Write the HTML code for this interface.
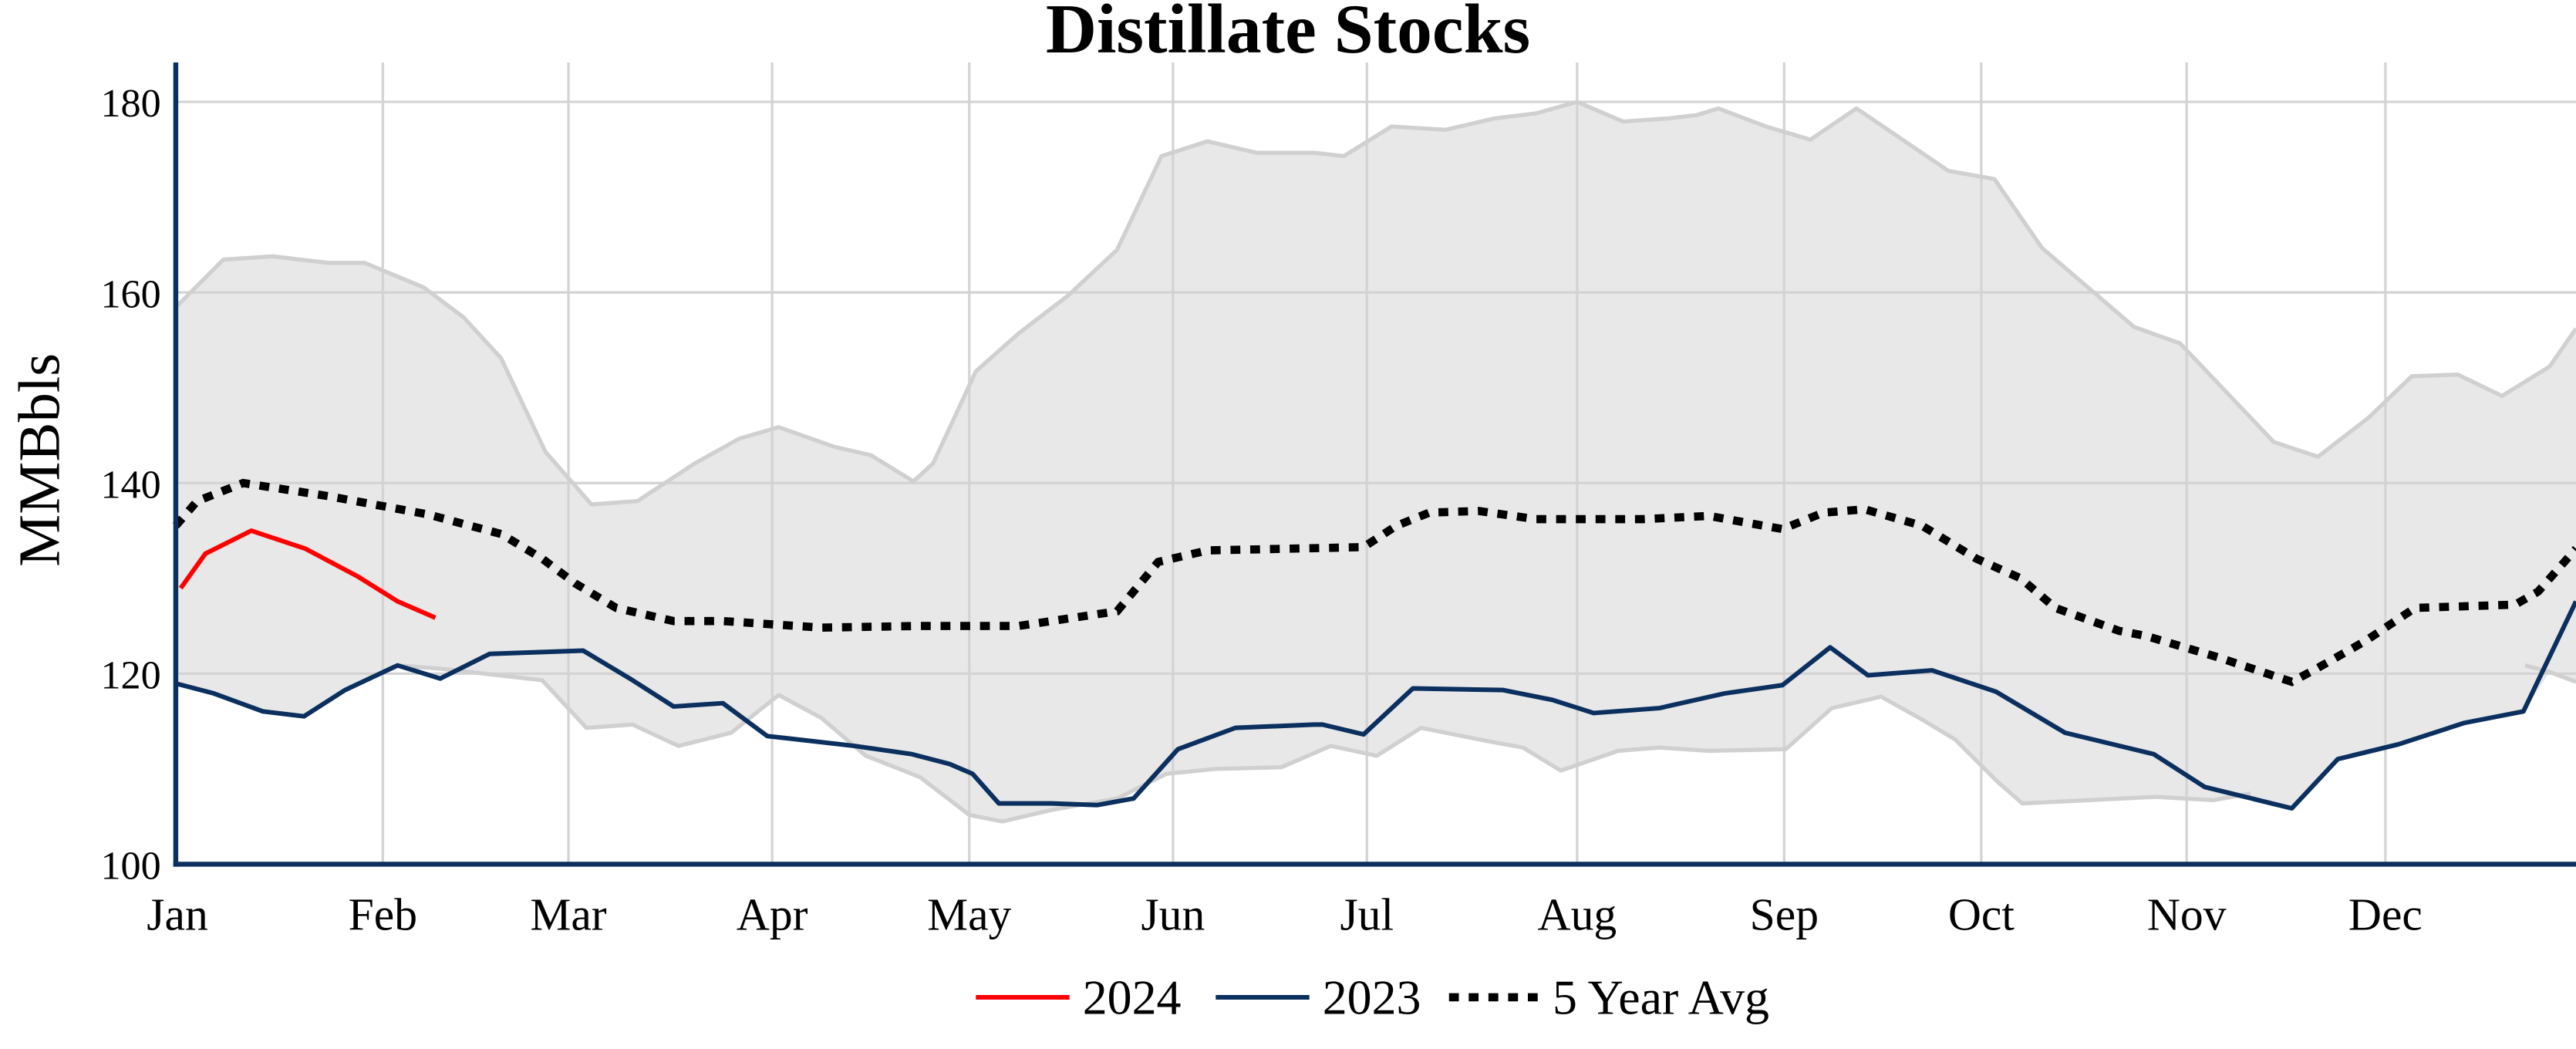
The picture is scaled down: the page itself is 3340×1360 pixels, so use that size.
<!DOCTYPE html>
<html><head><meta charset="utf-8"><style>html,body{margin:0;padding:0;background:#fff}svg{display:block}</style></head>
<body>
<svg width="3340" height="1360" viewBox="0 0 1568 638.47" preserveAspectRatio="none" xmlns="http://www.w3.org/2000/svg" font-family="'Liberation Serif', serif">
<rect width="1568" height="638.47" fill="#fff"/>
<path d="M107,187 L136,158 L166,156 L200,160 L222,160 L258,175 L282,193 L305,218 L332,275 L360,307 L388,305 L423,282 L450,267 L474,260 L508,272 L530,277 L556,293 L568,282 L594,226 L620,203 L650,180 L680,152 L707,95 L735,86 L765,93 L800,93 L818,95 L847,77 L880,79 L910,72 L935,69 L960,62 L988,74 L1016,72 L1033,70 L1046,66 L1075,77 L1102,85 L1130,66 L1186,104 L1214,109 L1243,151 L1299,199 L1327,209 L1384,269 L1411,278 L1442,254 L1468,229 L1496,228 L1523,241 L1552,223 L1568,200 L1568,415 L1552,409 L1537,432 L1500,440 L1460,453 L1423,462 L1395,492 L1370,485 L1347,487 L1312,485 L1231,489 L1215,475 L1190,450 L1170,438 L1145,424 L1115,431 L1087,456 L1040,457 L1010,455 L985,457 L950,469 L927,455 L905,451 L865,443 L838,460 L810,454 L780,467 L740,468 L710,471 L680,486 L640,493 L610,500 L590,496 L560,473 L527,460 L500,437 L474,423 L445,446 L413,454 L385,441 L357,443 L330,414 L282,410 L268,407 L242,405 L210,420 L185,436 L160,433 L130,422 L107,416 Z" fill="#e8e8e8"/>
<g stroke="#d3d3d3" stroke-width="1.5">
<line x1="107" y1="62" x2="1568" y2="62"/><line x1="107" y1="178" x2="1568" y2="178"/><line x1="107" y1="294" x2="1568" y2="294"/><line x1="107" y1="410" x2="1568" y2="410"/>
<line x1="233" y1="38" x2="233" y2="526"/><line x1="346" y1="38" x2="346" y2="526"/><line x1="470" y1="38" x2="470" y2="526"/><line x1="590" y1="38" x2="590" y2="526"/><line x1="714" y1="38" x2="714" y2="526"/><line x1="832" y1="38" x2="832" y2="526"/><line x1="960" y1="38" x2="960" y2="526"/><line x1="1086" y1="38" x2="1086" y2="526"/><line x1="1206" y1="38" x2="1206" y2="526"/><line x1="1331" y1="38" x2="1331" y2="526"/><line x1="1452" y1="38" x2="1452" y2="526"/>
</g>
<g fill="none" stroke="#d0d0d0" stroke-width="2.5" stroke-linejoin="round">
<polyline points="107,187 136,158 166,156 200,160 222,160 258,175 282,193 305,218 332,275 360,307 388,305 423,282 450,267 474,260 508,272 530,277 556,293 568,282 594,226 620,203 650,180 680,152 707,95 735,86 765,93 800,93 818,95 847,77 880,79 910,72 935,69 960,62 988,74 1016,72 1033,70 1046,66 1075,77 1102,85 1130,66 1186,104 1214,109 1243,151 1299,199 1327,209 1384,269 1411,278 1442,254 1468,229 1496,228 1523,241 1552,223 1568,200"/>
<polyline points="242,405 268,407 330,414 357,443 385,441 413,454 445,446 474,423 500,437 527,460 560,473 590,496 610,500 640,493 680,486 710,471 740,468 780,467 810,454 838,460 865,443 905,451 927,455 950,469 985,457 1010,455 1040,457 1087,456 1115,431 1145,424 1170,438 1190,450 1215,475 1231,489 1312,485 1347,487 1370,483"/>
<polyline points="1537,405 1552,409 1568,415"/>
</g>
<polyline fill="none" stroke="#000" stroke-width="5" stroke-dasharray="6 6" points="107,320 120,305 148,294 200,302 260,313 305,325 330,340 350,355 375,370 410,378 440,378 500,382 560,381 620,381 680,372 705,342 735,335 830,333 850,320 870,312 900,311 935,316 1000,316 1040,314 1085,322 1110,312 1135,310 1170,320 1203,340 1230,352 1251,370 1290,384 1306,387 1350,400 1380,410 1395,415 1410,407 1440,390 1470,370 1531,368 1545,360 1568,334"/>
<polyline fill="none" stroke="#0b2f5f" stroke-width="2.8" stroke-linejoin="round" points="107,416 130,422 160,433 185,436 210,420 242,405 268,413 298,398 355,396 385,414 410,430 440,428 467,448 520,454 555,459 578,465 592,471 608,489 640,489 668,490 690,486 717,456 752,443 800,441 805,441 830,447 860,419 915,420 945,426 970,434 1010,431 1050,422 1085,417 1114,394 1137,411 1176,408 1215,421 1257,446 1311,459 1342,479 1395,492 1423,462 1460,453 1500,440 1536,433 1568,366"/>
<polyline fill="none" stroke="#ff0000" stroke-width="2.8" stroke-linejoin="round" points="110,358 125,337 153,323 186,334 218,351 242,366 265,376"/>
<line x1="107" y1="38" x2="107" y2="527.5" stroke="#0b2f5f" stroke-width="3"/>
<line x1="105.5" y1="526" x2="1568" y2="526" stroke="#0b2f5f" stroke-width="3"/>
<g font-size="24.5" fill="#000" text-anchor="end">
<text x="98" y="71">180</text><text x="98" y="187">160</text><text x="98" y="303">140</text><text x="98" y="419">120</text><text x="98" y="535">100</text>
</g>
<g font-size="28" fill="#000" text-anchor="middle">
<text x="108" y="566">Jan</text><text x="233" y="566">Feb</text><text x="346" y="566">Mar</text><text x="470" y="566">Apr</text><text x="590" y="566">May</text><text x="714" y="566">Jun</text><text x="832" y="566">Jul</text><text x="960" y="566">Aug</text><text x="1086" y="566">Sep</text><text x="1206" y="566">Oct</text><text x="1331" y="566">Nov</text><text x="1452" y="566">Dec</text>
</g>
<text x="784" y="32" font-size="43" font-weight="bold" text-anchor="middle">Distillate Stocks</text>
<text transform="translate(36,280) rotate(-90)" font-size="36" text-anchor="middle">MMBbls</text>
<line x1="594" y1="607" x2="651" y2="607" stroke="#ff0000" stroke-width="2.8"/>
<text x="659" y="617" font-size="30">2024</text>
<line x1="740" y1="607" x2="797" y2="607" stroke="#0b2f5f" stroke-width="2.8"/>
<text x="805" y="617" font-size="30">2023</text>
<line x1="882" y1="607" x2="937" y2="607" stroke="#000" stroke-width="5" stroke-dasharray="6 6"/>
<text x="945" y="617" font-size="30">5 Year Avg</text>
</svg>
</body></html>
